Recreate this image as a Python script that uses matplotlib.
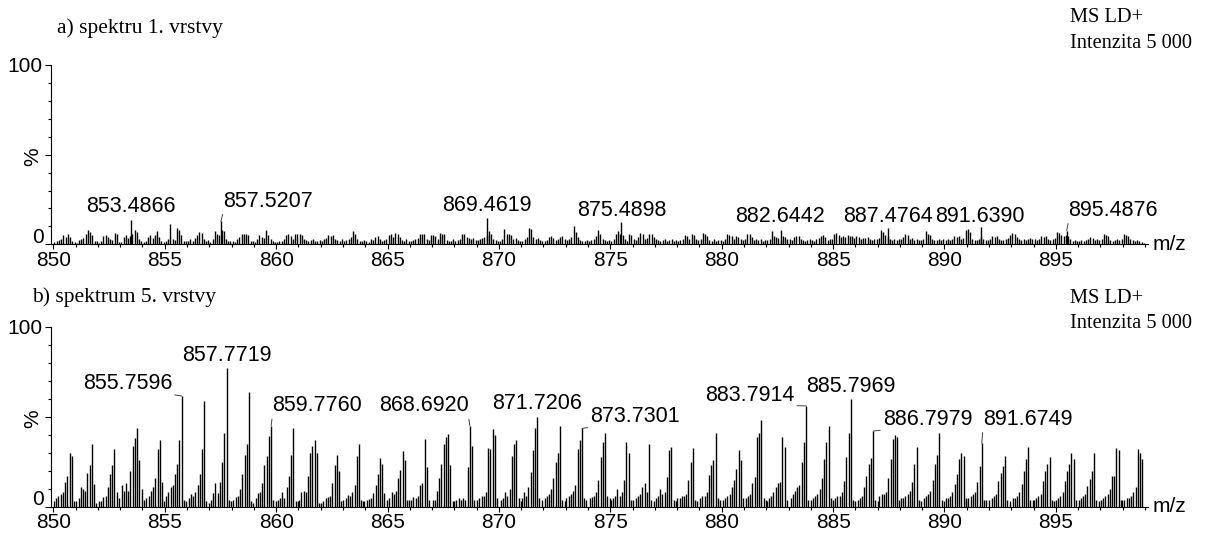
import matplotlib
matplotlib.use("Agg")
import matplotlib.pyplot as plt
from matplotlib.ticker import MultipleLocator, FixedLocator

plt.rcParams['font.family'] = ['Liberation Sans', 'DejaVu Sans']

# ---------------- panel a: spectrum of layer 1 (noise-level signal) ----------------
# nominal units 850..898, ten intensity readings (%) per unit at n+0.05, n+0.15, ...
a_units = list(range(850, 899))
a_rows = [
    [1.5, 2, 2.5, 3, 5, 4, 5.5, 4, 2, 1.5],      # 850
    [1, 2.5, 3, 3.5, 6, 8, 7, 5, 2, 2],          # 851
    [1, 2, 4.5, 5, 4, 3, 2.5, 6.5, 6, 1.5],      # 852
    [1.5, 4, 5, 3.5, 4.5, 6, 8, 7, 3, 2],        # 853
    [1.5, 2, 4, 5, 3.5, 5, 7.5, 4, 2, 1.5],      # 854
    [2, 3, 11.5, 3, 2.5, 9, 8, 5, 2, 2],         # 855
    [2, 3, 2, 3.5, 5, 7, 6.5, 3, 2, 2.5],        # 856
    [1.5, 3, 7.5, 6, 5, 8, 7.5, 3, 2, 2],        # 857
    [2, 1.5, 3, 4, 6, 5.5, 6, 5, 2, 2],          # 858
    [1.5, 3, 5, 4, 3.5, 8, 5, 3, 2, 1.5],        # 859
    [1.5, 2, 2, 3, 5, 6, 4.5, 3, 6, 5.5],        # 860
    [6, 5, 3, 2.5, 2, 2.5, 3, 2, 2, 2.5],        # 861
    [2, 3, 3.5, 5, 4.5, 5, 3, 2.5, 2, 3],        # 862
    [2, 2.5, 3, 4, 7.5, 6, 3, 2, 2, 2.5],        # 863
    [2, 1.5, 3, 2.5, 4, 4.5, 3, 2, 2.5, 3],      # 864
    [5, 5.5, 4, 6.5, 6, 4, 2.5, 2, 3, 2],        # 865
    [2, 2.5, 3, 3.5, 6, 5.5, 6, 3, 2.5, 5],      # 866
    [5, 4.5, 3, 6.5, 6, 5.5, 2.5, 2, 2, 3],      # 867
    [2, 2.5, 3, 6, 5.5, 4, 3.5, 3, 3.5, 2.5],    # 868
    [2.5, 3, 3.5, 4, 5, 7.5, 6, 3, 2.5, 2],      # 869
    [2, 3, 8.4, 5.5, 6, 5, 3, 3.5, 2.5, 2],      # 870
    [2, 3, 4, 9, 8.5, 4, 3, 3.5, 2.5, 2],        # 871
    [2, 2.5, 4, 4.5, 3.5, 2.5, 3, 4, 4.5, 3],    # 872
    [2.5, 3, 4, 10, 7, 4, 2.5, 2, 2, 2.5],       # 873
    [2, 2.5, 3, 4.5, 8, 6, 3, 2.5, 2, 2.5],      # 874
    [2, 3, 6, 7.5, 6, 5, 3, 2, 5.5, 5],          # 875
    [3, 2.5, 4, 6.5, 6, 3, 3.5, 6, 5.5, 4],      # 876
    [3, 2.5, 2, 2.5, 3, 2, 2.5, 3, 2, 2.5],      # 877
    [2, 2.5, 3, 5, 4.5, 3, 5.5, 5, 3, 2.5],      # 878
    [3, 6.5, 6, 4.5, 2.5, 2, 3, 2, 2.5, 2.5],    # 879
    [2, 3, 5.5, 5, 4.5, 3, 4.5, 4, 3, 2.5],      # 880
    [3, 6, 5.5, 4, 2.5, 3, 2.5, 3, 2, 2.5],      # 881
    [2.5, 3, 7.5, 4.5, 4, 3.5, 2.5, 4.5, 4, 3],  # 882
    [3, 2.5, 4, 4.5, 4.5, 3, 2.5, 2, 2.5, 3],    # 883
    [2.5, 2, 3, 3.5, 4.5, 5, 4, 2.5, 3, 3],      # 884
    [6, 6.5, 5, 4, 4.5, 4, 5, 4.5, 4.5, 3.5],    # 885
    [4.5, 4, 3, 3.5, 3.5, 4, 3, 2.5, 3, 3],      # 886
    [3.5, 8, 7, 5, 4, 3, 2.5, 3, 2.5, 3],        # 887
    [3, 4, 5.5, 5, 3, 3.5, 2.5, 3, 2.5, 2.5],    # 888
    [3, 7.5, 5.5, 5, 3, 2.5, 2.5, 3, 2.5, 3],    # 889
    [2.5, 3, 2.5, 3, 4.5, 4, 4.5, 3, 3.5, 8],    # 890
    [8.4, 7, 3, 2.5, 2.5, 3, 4, 3, 2.5, 2.5],    # 891
    [3, 4.5, 4, 4.5, 3, 2.5, 2.5, 3, 3.5, 5],    # 892
    [6.5, 6, 4, 3, 2.5, 3, 2.5, 3, 3.5, 3],      # 893
    [3, 2.5, 3, 4.5, 4, 4.5, 3, 2.5, 3, 3.5],    # 894
    [7, 6.5, 5, 4.5, 5, 4.5, 3, 2, 2.5, 2],      # 895
    [2, 2.5, 2, 2.5, 3, 4, 3.5, 2.5, 3, 2.5],    # 896
    [3, 5.5, 5, 4.5, 2.5, 2, 2.5, 3, 2.5, 3],    # 897
    [5.5, 5, 4.5, 3, 2.5, 2, 2.5, 2, 1.5, 1],    # 898
]
a_peak_mz = [853.4866, 857.5207, 869.4619, 875.4898, 882.6442, 887.4764, 891.6390, 895.4876]
a_peak_int = [13.4, 12.8, 14.5, 12.3, 8.0, 9.0, 9.5, 7.6]
a_labels = ['853.4866', '857.5207', '869.4619', '875.4898', '882.6442', '887.4764', '891.6390', '895.4876']

# ---------------- panel b: spectrum of layer 5 (isotope-like clusters) ----------------
b_main_mz = [850.73, 851.73, 852.74, 853.76, 854.78, 855.7596, 856.77, 857.7719, 858.78, 859.7760,
             860.77, 861.73, 862.72, 863.72, 864.66, 865.68, 866.66, 867.72, 868.6920, 869.72,
             870.78, 871.7206, 872.75, 873.7301, 874.77, 875.72, 876.74, 877.74, 878.71, 879.73,
             880.76, 881.78, 882.72, 883.7914, 884.80, 885.7969, 886.7979, 887.78, 888.75, 889.77,
             890.76, 891.6749, 892.72, 893.76, 894.72, 895.70, 896.72, 897.72, 898.68]
b_main_int = [30, 35, 32, 44, 37, 61.5, 59, 77, 64, 45,
              44, 37, 29, 35, 27, 30.7, 37.6, 40.6, 45, 43,
              37, 50, 45, 43.5, 40.7, 35.7, 35, 33, 32.8, 41,
              31.5, 48, 38.5, 56, 45, 60, 42, 40, 33, 41,
              29.6, 35.2, 28, 33, 27.4, 29.8, 29.8, 32.8, 32]
# seven readings before each main peak (main-0.7 ... main-0.1)
b_pre = [
    [3, 5, 6, 7, 8, 14, 17], [3, 5, 11, 10, 9, 18.6, 23], [3, 3, 5.5, 6, 11, 18, 23],
    [12, 9, 13, 9, 20, 34, 38], [4, 5, 6, 9, 11, 16, 32], [6, 8, 11, 12, 18, 24, 37],
    [5, 7, 6, 8.4, 12, 18, 32], [4, 7.5, 13, 7.5, 14, 25, 41], [4, 5.5, 6, 10, 18, 29, 35],
    [5, 7.5, 8, 13, 23, 28, 39.5], [4, 5, 8, 5, 11, 17, 29], [4, 8, 9, 8, 17, 30, 33.5],
    [2, 3, 5, 5.5, 6, 13, 23], [4, 5, 6.5, 6, 8, 12, 28], [3, 4, 4.5, 5, 7.5, 12, 18],
    [4, 5, 8, 7, 9, 16, 20.5], [4, 4, 5.5, 5, 6, 12, 13], [4, 4, 9, 16, 24, 35, 39],
    [3, 4, 5, 4, 5, 4, 22], [4, 5, 6, 6, 8, 32.6, 32], [4, 5, 8, 6, 10, 28, 35],
    [5, 8, 6, 11, 19.4, 31.5, 44], [5, 6, 7, 10, 15.7, 25, 29.6], [5, 6, 7, 9, 12, 32, 37],
    [5, 5.5, 6, 8, 15, 27.8, 36], [4, 5, 6, 10, 6, 8, 15], [4, 5, 6, 7, 11, 13, 8],
    [5, 6, 10, 7, 8, 16.7, 31.5], [5, 5, 6, 6, 7, 15, 25], [5, 6, 6, 8, 17.6, 23, 26],
    [4, 5, 6, 7, 11, 15, 21], [5, 6, 7, 13, 16.7, 39, 40.7], [3, 5, 6, 8, 11, 13, 14],
    [5, 7, 9, 11, 12, 25, 36], [5, 6, 7, 10, 16, 26.5, 35.7], [5, 6, 6, 8, 14.4, 27.4, 41],
    [4, 5, 6, 10.7, 17, 23.7, 27], [6, 7, 7, 8, 16, 26.5, 37.6], [5, 5, 6, 7, 9, 13.5, 23.7],
    [5, 6, 7, 9, 15, 23.7, 29], [5, 5, 6, 8, 12.6, 18, 26.5], [5, 5, 6, 7, 8, 13.5, 22.8],
    [4, 5, 6, 7, 14.4, 19, 22.8], [5, 5, 6, 8, 12.6, 20, 26.5], [4, 5, 6, 7, 14.4, 20, 23.7],
    [4, 5, 6, 8, 14.4, 20, 23.7], [4, 5, 6, 7, 11.7, 15.4, 20], [4, 5, 6, 7, 10, 17, 17],
    [4, 4, 5, 5, 6, 8, 10.7],
]
# two readings after each main peak (main+0.1, main+0.2)
b_post = [
    [28, 3], [12.5, 2], [8, 5], [26, 10], [14, 3], [4, 3], [3, 2], [4, 3], [3, 2], [4, 3],
    [3, 3], [30, 2], [20, 3], [4, 3], [24, 7.5], [26, 4], [22, 4], [23, 3], [33.5, 4], [40, 5],
    [5, 3], [5, 4], [4, 3], [5, 4], [6, 5], [29.6, 4], [4, 3], [4, 3], [4, 3], [5, 4],
    [26, 5], [5, 4], [33, 4], [4, 4], [5, 4], [4, 3], [4, 3], [38.5, 4], [4, 3], [4, 3],
    [28, 4], [4, 4], [4, 3], [4, 4], [4, 3], [26.5, 4], [4, 3], [31.7, 4], [30, 26.5],
]
b_labels = ['855.7596', '857.7719', '859.7760', '868.6920', '871.7206',
            '873.7301', '883.7914', '885.7969', '886.7979', '891.6749']

x_major = [850, 855, 860, 865, 870, 875, 880, 885, 890, 895]

# ---------------- layout (label placement in data units) ----------------
a_label_pos = [(853.49, 21), (859.64, 24), (869.47, 21.6), (875.51, 19), (882.62, 15.4),
               (887.46, 15.4), (891.59, 15.4), (897.58, 19)]
a_leader = [None, (0, 0), None, None, None, None, None, (0, 0)]
b_label_pos = [(853.32, 68.2), (857.78, 84), (861.84, 56), (866.62, 56), (871.73, 57.6),
               (876.12, 50), (881.26, 62), (885.79, 66.7), (889.25, 48.5), (893.73, 48.5)]
b_leader = [(1, 0), None, (0, 0), (1, 0), None, (0, 0), (1, 0), None, (0, 0), (0, 0)]

W, H = 1205, 533
fig = plt.figure(figsize=(W / 100, H / 100), dpi=100)
axa = fig.add_axes([50.7 / W, 1 - 244.3 / H, (1148.3 - 50.7) / W, (244.3 - 65) / H])
axb = fig.add_axes([50.7 / W, 1 - 506.7 / H, (1148.3 - 50.7) / W, (506.7 - 326.7) / H])

LBL = 15.5
TICK = 15
BAR_LW = 1.0


def style_axis(ax):
    ax.set_xlim(849.88, 899.15)
    ax.set_ylim(0, 100)
    for s in ('top', 'right'):
        ax.spines[s].set_visible(False)
    for s in ('left', 'bottom'):
        ax.spines[s].set_linewidth(0.8)
    ax.xaxis.set_major_locator(FixedLocator(x_major))
    ax.xaxis.set_minor_locator(MultipleLocator(1))
    ax.set_xticklabels([str(v) for v in x_major])
    ax.yaxis.set_major_locator(FixedLocator([0, 50, 100]))
    ax.yaxis.set_minor_locator(FixedLocator([10, 20, 30, 40, 60, 70, 80, 90]))
    # the "0" is drawn separately, slightly lifted, to stay clear of the first x label
    ax.set_yticklabels(['', '%', '100'])
    ax.get_yticklabels()[1].set_rotation(90)
    ax.tick_params(axis='both', which='major', direction='out', length=4.5, width=0.8,
                   labelsize=TICK, pad=1.5)
    ax.tick_params(axis='x', which='major', length=3.5, pad=1.2)
    ax.tick_params(axis='both', which='minor', direction='out', length=2.2, width=0.8)
    ax.annotate('0', xy=(0, 0), xycoords='axes fraction', xytext=(-4.8, 5),
                textcoords='offset points', ha='right', va='center', fontsize=TICK)
    ax.text(1.004, 0.0, 'm/z', transform=ax.transAxes, fontsize=TICK, ha='left', va='center')


def draw_labels(ax, labels, mzs, ints, pos, leaders):
    for lab, mz, it, (lx, ly), rel in zip(labels, mzs, ints, pos, leaders):
        if rel is None:
            ax.text(lx, ly, lab, fontsize=LBL, ha='center', va='center', clip_on=False)
        else:
            ax.annotate(lab, xy=(mz, it), xytext=(lx, ly), textcoords='data',
                        fontsize=LBL, ha='center', va='center', annotation_clip=False,
                        arrowprops=dict(arrowstyle='-', color='#404040', lw=0.7,
                                        shrinkA=0, shrinkB=0, relpos=rel))


# panel a bars
a_x, a_h = [], []
for n, row in zip(a_units, a_rows):
    for k, v in enumerate(row):
        a_x.append(n + 0.05 + 0.1 * k)
        a_h.append(v)
axa.vlines(a_x, 0, a_h, color='black', lw=BAR_LW)
axa.vlines(a_peak_mz, 0, a_peak_int, color='black', lw=BAR_LW)
style_axis(axa)
draw_labels(axa, a_labels, a_peak_mz, a_peak_int, a_label_pos, a_leader)

# panel b bars
b_x, b_h = [], []
for m, hm, pre, post in zip(b_main_mz, b_main_int, b_pre, b_post):
    vals = list(pre) + [hm] + list(post)
    for k, v in enumerate(vals):
        b_x.append(m + (k - 7) * 0.1)
        b_h.append(v)
axb.vlines(b_x, 0, b_h, color='black', lw=BAR_LW)
style_axis(axb)
b_lab_mz = [float(s) for s in b_labels]
b_lab_int = [b_main_int[b_main_mz.index(v)] for v in b_lab_mz]
draw_labels(axb, b_labels, b_lab_mz, b_lab_int, b_label_pos, b_leader)

# headers
serif = ['Liberation Serif', 'DejaVu Serif']
fig.text(57 / W, 1 - 28 / H, 'a) spektru 1. vrstvy', family=serif, fontsize=15.5, ha='left', va='center')
fig.text(31.7 / W, 1 - 296.7 / H, 'b) spektrum 5. vrstvy', family=serif, fontsize=15.5, ha='left', va='center')
for y0 in (18, 298.3):
    fig.text(1070 / W, 1 - y0 / H, 'MS LD+', family=serif, fontsize=14.7, ha='left', va='center')
    fig.text(1070 / W, 1 - (y0 + 25.5) / H, 'Intenzita 5 000', family=serif, fontsize=14.7,
             ha='left', va='center')

fig.savefig('out.png', dpi=100)
